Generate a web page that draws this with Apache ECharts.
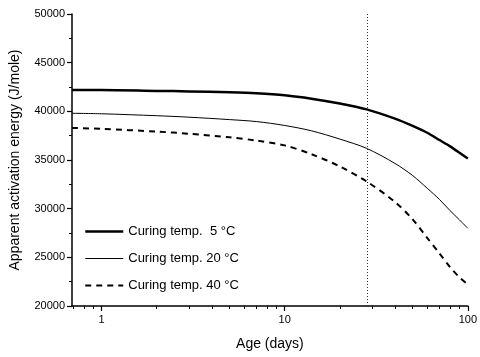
<!DOCTYPE html>
<html>
<head>
<meta charset="utf-8">
<script src="https://cdn.jsdelivr.net/npm/echarts@6/dist/echarts.min.js"></script>
<style>
  html, body { margin: 0; padding: 0; background: #fff; }
  #chart { width: 480px; height: 357px; }
</style>
</head>
<body>
<div id="chart"></div>
<script>
// age in days (plotted on a log10 scale)
var days = [0.69, 1, 2, 3, 5, 7, 10, 14, 20, 28, 40, 50, 60, 70, 80, 90, 100];
// apparent activation energy, J/mole
var temp5  = [42200, 42200, 42100, 42050, 41950, 41850, 41650, 41300, 40800, 40200, 39250, 38500, 37800, 37050, 36400, 35750, 35150];
var temp20 = [39800, 39750, 39550, 39400, 39150, 38950, 38550, 38000, 37150, 36200, 34650, 33400, 32100, 30950, 29800, 28850, 27980];
var temp40 = [38300, 38200, 37920, 37700, 37330, 37000, 36500, 35600, 34340, 32800, 30700, 28900, 27000, 25400, 24000, 22950, 22200];
var seriesNames = ['Curing temp.  5 °C', 'Curing temp. 20 °C', 'Curing temp. 40 °C'];
var refAge = 28;
var ageMin = 0.69, ageMax = 100;
var majorX = [1, 10, 100];
var minorX = [0.7, 0.8, 0.9, 2, 3, 4, 5, 6, 7, 8, 9, 20, 30, 40, 50, 60, 70, 80, 90];

var font = '"Liberation Sans", Arial, sans-serif';
var lg = Math.log10;

function pairs(vals) {
    var out = [];
    for (var i = 0; i < days.length; i++) {
        out.push([lg(days[i]), vals[i]]);
    }
    return out;
}

function logAxis(extra) {
    var ax = {
        type: 'value',
        min: lg(ageMin),
        max: lg(ageMax),
        position: 'bottom',
        splitLine: { show: false }
    };
    for (var k in extra) ax[k] = extra[k];
    return ax;
}

var chart = echarts.init(document.getElementById('chart'));
var option = {
    animation: false,
    backgroundColor: '#fff',
    grid: { left: 70, right: 10, top: 14, bottom: 51 },
    legend: {
        orient: 'vertical',
        left: 79,
        top: 220,
        itemWidth: 38,
        itemHeight: 12,
        itemGap: 14,
        itemStyle: { opacity: 0 },
        textStyle: { fontFamily: font, fontSize: 13, color: '#000' },
        data: [
            { name: seriesNames[0], lineStyle: { width: 2.5 } },
            { name: seriesNames[1], lineStyle: { width: 1 } },
            { name: seriesNames[2], lineStyle: { width: 2 } }
        ]
    },
    xAxis: [
        logAxis({
            name: 'Age (days)',
            nameLocation: 'middle',
            nameGap: 31,
            nameTextStyle: { fontFamily: font, fontSize: 14, color: '#000' },
            axisLine: { onZero: false, lineStyle: { color: '#000', width: 1.5 } },
            axisTick: { show: true, length: 5, customValues: majorX.map(lg), lineStyle: { color: '#000', width: 1.2 } },
            axisLabel: {
                customValues: majorX.map(lg),
                formatter: function (v) { return String(Math.round(Math.pow(10, v) * 100) / 100); },
                fontFamily: font, fontSize: 11, color: '#000', margin: 8
            }
        }),
        logAxis({
            axisLine: { show: false, onZero: false },
            axisTick: { show: true, length: 3, customValues: minorX.map(lg), lineStyle: { color: '#000', width: 1 } },
            axisLabel: { show: false }
        })
    ],
    yAxis: {
        type: 'value',
        min: 20000,
        max: 50000,
        interval: 5000,
        name: 'Apparent activation energy (J/mole)',
        nameLocation: 'middle',
        nameGap: 50,
        nameTextStyle: { fontFamily: font, fontSize: 14, color: '#000' },
        axisLine: { show: true, onZero: false, lineStyle: { color: '#000', width: 1.5 } },
        axisTick: { show: true, length: 5, lineStyle: { color: '#000', width: 1.2 } },
        minorTick: { show: true, splitNumber: 2, length: 3, lineStyle: { color: '#000' } },
        axisLabel: {
            formatter: function (v) { return String(v); },
            fontFamily: font, fontSize: 11, color: '#000', margin: 7
        },
        splitLine: { show: false }
    },
    series: [{
        name: seriesNames[0],
        type: 'line',
        data: pairs(temp5),
        smooth: 0.3,
        symbol: 'none',
        lineStyle: { color: '#000', width: 2.5 },
        itemStyle: { color: '#000' },
        markLine: {
            silent: true,
            symbol: 'none',
            label: { show: false },
            lineStyle: { color: '#333', width: 1, type: [1, 2] },
            data: [{ xAxis: lg(refAge) }]
        }
    }, {
        name: seriesNames[1],
        type: 'line',
        data: pairs(temp20),
        smooth: 0.3,
        symbol: 'none',
        lineStyle: { color: '#000', width: 1 },
        itemStyle: { color: '#000' }
    }, {
        name: seriesNames[2],
        type: 'line',
        data: pairs(temp40),
        smooth: 0.3,
        symbol: 'none',
        lineStyle: { color: '#000', width: 2, type: [6, 5] },
        itemStyle: { color: '#000' }
    }]
};
chart.setOption(option);
</script>
</body>
</html>
